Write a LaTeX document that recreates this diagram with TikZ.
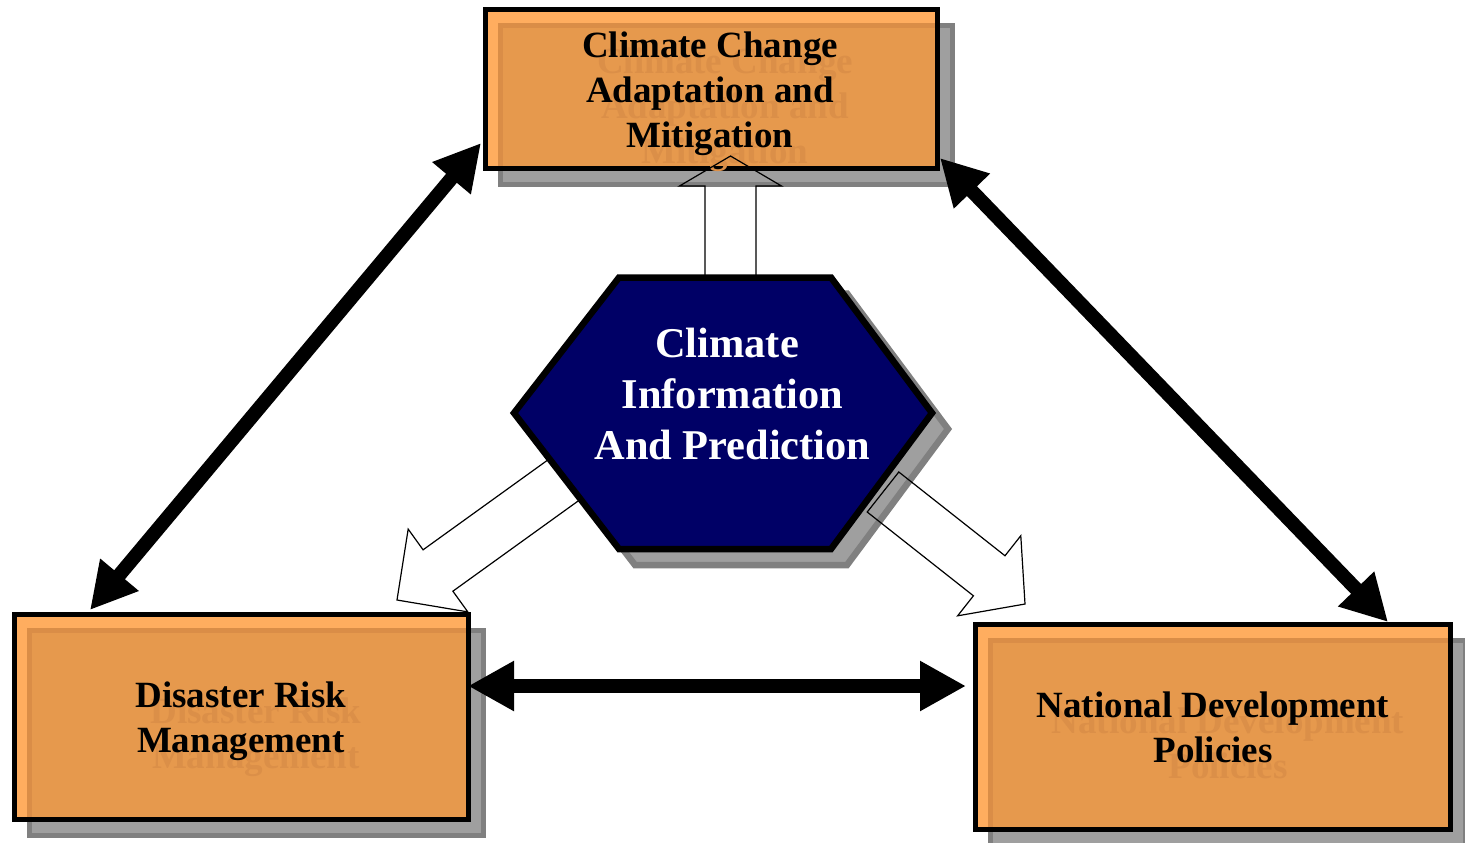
\documentclass[tikz,border=0pt]{standalone}
\usepackage{fontspec}
\setmainfont{Liberation Serif}
\usetikzlibrary{calc,arrows.meta}
\definecolor{lorange}{RGB}{255,173,95}
\definecolor{dorange}{RGB}{230,153,77}
\definecolor{borange}{RGB}{218,141,71}
\definecolor{gorange}{RGB}{219,143,72}
\definecolor{shfill}{RGB}{159,159,159}
\definecolor{shband}{RGB}{128,128,128}
\definecolor{navyblue}{RGB}{0,0,102}
\newcommand\blockarr[3]{%
  \coordinate (#1b) at ($(#2)!#3!(#1)$);
  \draw[blockarrow] ($(#1)!12.75pt!90:(#2)$) -- ($(#1b)!12.75pt!90:(#2)$) -- ($(#1b)!25.5pt!90:(#2)$) -- (#2)
    -- ($(#1b)!25.5pt!-90:(#2)$) -- ($(#1b)!12.75pt!-90:(#2)$) -- ($(#1)!12.75pt!-90:(#2)$) -- cycle;}
\begin{document}
\begin{tikzpicture}[x=0.5pt,y=-0.5pt,
  boxshadow/.style={rectangle, inner sep=0pt, fill=shfill, draw=shband, line width=2.5pt},
  obox/.style={rectangle, inner sep=0pt, fill=lorange, draw=black, line width=2.5pt,
    path picture={
      \fill[dorange] ($(path picture bounding box.north west)+(7.5pt,-8pt)$) rectangle ($(path picture bounding box.south east)+(7.5pt,-8pt)$);
      \draw[borange, line width=2.5pt] ($(path picture bounding box.north west)+(7.5pt,-8pt)$) rectangle ($(path picture bounding box.south east)+(7.5pt,-8pt)$);}},
  boxtext/.style={align=center, inner sep=0pt, font=\fontsize{18.5pt}{22.5pt}\selectfont\bfseries},
  ghost/.style={boxtext, text=gorange},
  hexshadow/.style={fill=shfill, draw=shband, line width=3.25pt, line join=miter},
  hexagon/.style={fill=navyblue, draw=black, line width=3.25pt, line join=miter},
  hextext/.style={align=center, inner sep=0pt, text=white, font=\fontsize{21.2pt}{25.7pt}\selectfont\bfseries},
  blockarrow/.style={draw=black, line width=0.6pt, line join=miter},
  bigarrow/.style={line width=7pt, {Triangle[length=23pt,width=23.5pt]}-{Triangle[length=23pt,width=23.5pt]}}
]
\useasboundingbox (0,0) rectangle (1465,842);
\clip (0,0) rectangle (1465,842);

% shadows
\node[boxshadow, minimum width=226.1pt, minimum height=79.35pt] (ccams) at (726.4,104.65) {};
\node[boxshadow, minimum width=226.9pt, minimum height=102.4pt] (drms) at (256.1,732.6) {};
\node[boxshadow, minimum width=237.5pt, minimum height=102.25pt] (ndps) at (1228,742.75) {};
\begin{scope}[shift={(16,16)}]
  \path[hexshadow] (514,413) -- (619,277.5) -- (831,277.5) -- (932,413) -- (831,549) -- (619,549) -- cycle;
\end{scope}

% boxes
\node[obox, minimum width=226.1pt, minimum height=79.35pt] (ccam) at (711.4,88.65) {};
\node[obox, minimum width=226.9pt, minimum height=102.4pt] (drm) at (241.1,716.6) {};
\node[obox, minimum width=237.5pt, minimum height=102.25pt] (ndp) at (1213,726.75) {};

% texts
\node[ghost] (ccamg) at (725,109.3) {Climate Change\\Adaptation and\\Mitigation};
\node[boxtext] (ccamt) at (710,93.3) {Climate Change\\Adaptation and\\Mitigation};
\node[ghost] (drmg) at (255.8,737.2) {Disaster Risk\\Management};
\node[boxtext] (drmt) at (240.8,721.2) {Disaster Risk\\Management};
\node[ghost] (ndpg) at (1228,743.3) {National Development\\Policies};
\node[boxtext] (ndpt) at (1213,727.3) {National Development\\Policies};

% block arrows
\coordinate (upS) at (730.5,282);
\coordinate (upT) at (730.5,156);
\coordinate (lfS) at (565,479);
\coordinate (lfT) at (397,600);
\coordinate (rtS) at (883,492);
\coordinate (rtT) at (1025,604);
\blockarr{upS}{upT}{15pt}
\blockarr{lfS}{lfT}{25.25pt}
\blockarr{rtS}{rtT}{22.8pt}

% hexagon
\path[hexagon] (514,413) -- (619,277.5) -- (831,277.5) -- (932,413) -- (831,549) -- (619,549) -- cycle;
\node[hextext] (cip) at (732.4,394) {Climate\kern5.3pt\\Information\\And Prediction};

% thick double arrows
\draw[bigarrow] ($(ccam.south west)+(-1.8,-27.5)$) -- ($(drm.north west)+(78.3,-1.7)$);
\draw[bigarrow] ($(ccam.south east)+(0,-12.5)$) -- ($(ndp.north east)+(-65,0)$);
\draw[bigarrow] ($(drm.east)+(-2.5,-30.6)$) -- ($(ndp.west)+(-7,-40.75)$);
\end{tikzpicture}
\end{document}
